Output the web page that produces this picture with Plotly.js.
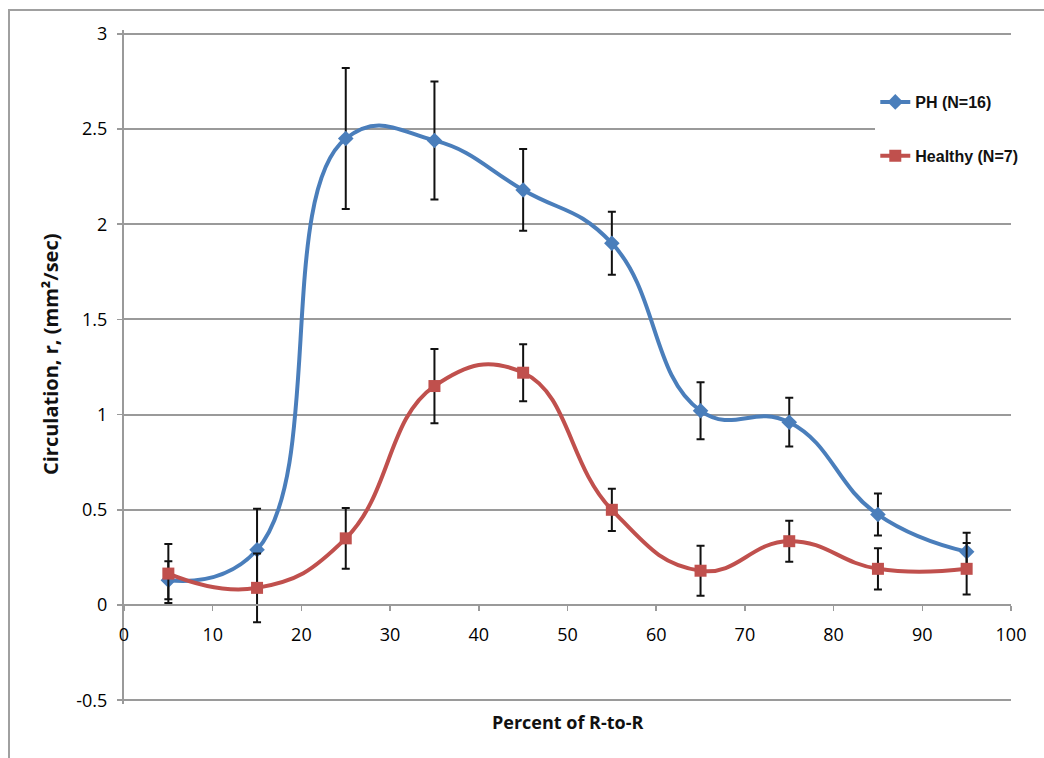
<!DOCTYPE html>
<html>
<head>
<meta charset="utf-8">
<script src="https://cdn.plot.ly/plotly-3.0.1.min.js"></script>
<style>
  html, body { margin: 0; padding: 0; background: #ffffff; }
  #chart { width: 1044px; height: 758px; }
</style>
</head>
<body>
<div id="chart"></div>
<script>
// ---- data ----
const percentRtoR = [5, 15, 25, 35, 45, 55, 65, 75, 85, 95];
const phValues = [0.13, 0.29, 2.45, 2.44, 2.18, 1.90, 1.02, 0.96, 0.475, 0.28];
const phErrors = [0.10, 0.215, 0.37, 0.31, 0.215, 0.165, 0.15, 0.128, 0.11, 0.10];
const healthyValues = [0.165, 0.09, 0.35, 1.15, 1.22, 0.50, 0.18, 0.335, 0.19, 0.19];
const healthyErrors = [0.155, 0.18, 0.16, 0.195, 0.15, 0.111, 0.131, 0.108, 0.108, 0.135];
const seriesNames = ["PH (N=16)", "Healthy (N=7)"];
const yTickValues = [-0.5, 0, 0.5, 1, 1.5, 2, 2.5, 3];
const yTickLabels = ["-0.5", "0", "0.5", "1", "1.5", "2", "2.5", "3"];
const xTickValues = [0, 10, 20, 30, 40, 50, 60, 70, 80, 90, 100];
const xTickLabels = ["0", "10", "20", "30", "40", "50", "60", "70", "80", "90", "100"];
const xTitle = "Percent of R-to-R";
const yTitle = "Circulation, r, (mm\u00B2/sec)";

const blue = "#4a7ebb";
const red = "#c0504d";
const gridColor = "#9a9a9a";
const tickFont = { family: "Open Sans, DejaVu Sans, sans-serif", size: 18, color: "#000000" };

const traces = [
  {
    x: percentRtoR, y: phValues, name: seriesNames[0], legendgroup: "ph",
    type: "scatter", mode: "lines+markers",
    line: { color: blue, width: 4, shape: "spline", smoothing: 1.3 },
    marker: { symbol: "diamond", size: 12, color: blue },
    error_y: { type: "data", array: phErrors, visible: true, color: "#111111", thickness: 2, width: 4 },
    cliponaxis: false
  },
  {
    x: percentRtoR, y: healthyValues, name: seriesNames[1], legendgroup: "healthy",
    type: "scatter", mode: "lines+markers",
    line: { color: red, width: 4, shape: "spline", smoothing: 1.3 },
    marker: { symbol: "square", size: 12, color: red },
    error_y: { type: "data", array: healthyErrors, visible: true, color: "#111111", thickness: 2, width: 4 },
    cliponaxis: false
  }
];

const yMin = -0.52, yMax = 3.02;

const layout = {
  width: 1044, height: 758,
  margin: { l: 124, r: 33, t: 30, b: 54, pad: 0 },
  paper_bgcolor: "#ffffff", plot_bgcolor: "#ffffff",
  showlegend: true,
  xaxis: {
    range: [0, 100],
    tickvals: xTickValues, ticktext: xTickLabels,
    showgrid: false, zeroline: false,
    showline: true, linecolor: gridColor, linewidth: 2,
    ticks: "outside", ticklen: 5, tickcolor: gridColor, tickwidth: 1.5,
    ticklabelstandoff: 8,
    tickfont: tickFont,
    anchor: "free", position: (0 - yMin) / (yMax - yMin),
    fixedrange: true
  },
  yaxis: {
    range: [yMin, yMax],
    tickvals: yTickValues, ticktext: yTickLabels,
    showgrid: true, gridcolor: gridColor, gridwidth: 2,
    zeroline: false,
    showline: true, linecolor: gridColor, linewidth: 2,
    ticks: "outside", ticklen: 5, tickcolor: gridColor, tickwidth: 1.5,
    ticklabelstandoff: 6,
    tickfont: tickFont,
    fixedrange: true
  },
  legend: {
    x: 0.847, xanchor: "left", y: (700 + 4 - 85) / 674, yanchor: "top",
    bgcolor: "#ffffff", borderwidth: 0,
    traceorder: "grouped", tracegroupgap: 30, itemwidth: 30,
    font: { family: "Liberation Sans, Arial, sans-serif", size: 16, color: "#111111", weight: "bold" }
  },
  annotations: [
    {
      text: xTitle, xref: "paper", yref: "paper",
      x: 0.5, y: (704 - 722) / 674, xanchor: "center", yanchor: "middle",
      showarrow: false,
      font: { family: "Open Sans, DejaVu Sans, sans-serif", size: 18, color: "#111111", weight: "bold" }
    },
    {
      text: yTitle, xref: "paper", yref: "paper",
      x: (50 - 124) / 887, y: (704 - 355) / 674, xanchor: "center", yanchor: "middle",
      textangle: -90, showarrow: false,
      font: { family: "Open Sans, DejaVu Sans, sans-serif", size: 20, color: "#111111", weight: "bold" }
    }
  ],
  shapes: [
    {
      type: "rect", xref: "paper", yref: "paper",
      x0: (9 - 124) / 887, x1: (1060 - 124) / 887,
      y0: (704 - 780) / 674, y1: (704 - 10) / 674,
      line: { color: "#a0a0a0", width: 2 }, fillcolor: "rgba(0,0,0,0)", layer: "below"
    }
  ]
};

Plotly.newPlot("chart", traces, layout, { staticPlot: true, displayModeBar: false });
</script>
</body>
</html>
